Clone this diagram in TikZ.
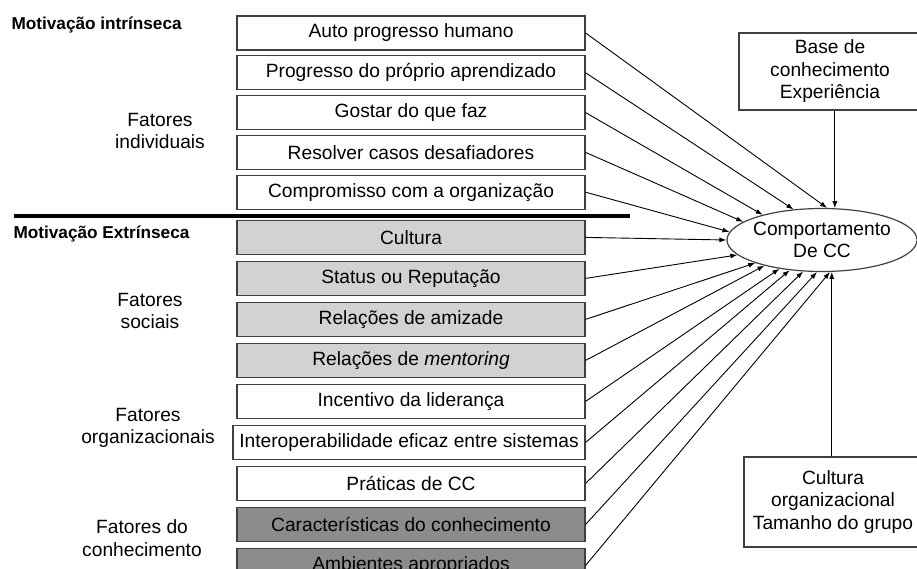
\documentclass[tikz,border=0pt]{standalone}
\usepackage{fontspec}
\setmainfont{Liberation Sans}
\usetikzlibrary{arrows.meta,positioning,shapes.geometric}

\begin{document}
\begin{tikzpicture}[
  x=1pt,y=-1pt,
  node distance=4.6pt,
  font=\fontsize{19.2}{22.5}\selectfont,
  box/.style={draw=black!75,line width=1.2pt,minimum width=348pt,
              minimum height=34pt,inner sep=1pt},
  social/.style={box,fill=gray!35},
  knowledge/.style={box,fill=gray!90},
  side/.style={draw=black!75,line width=1.2pt,align=center},
  factor/.style={align=center},
  title/.style={font=\fontsize{17.2}{20}\selectfont\bfseries},
  arrow/.style={-{Latex[length=7pt,width=5pt]},line width=0.9pt}
]
  \useasboundingbox (0,0) rectangle (917,569);
  % intrinsic factors
  \node[box] (auto) at (411,33) {Auto progresso humano};
  \node[box,below=of auto] (progresso) {Progresso do próprio aprendizado};
  \node[box,below=of progresso] (gostar) {Gostar do que faz};
  \node[box,below=of gostar] (resolver) {Resolver casos desafiadores};
  \node[box,below=of resolver] (compromisso) {Compromisso com a organização};
  % extrinsic factors
  \node[social,below=10pt of compromisso] (cultura) {Cultura};
  \node[social,below=5.8pt of cultura] (status) {Status ou Reputação};
  \node[social,below=5.8pt of status] (amizade) {Relações de amizade};
  \node[social,below=5.8pt of amizade] (mentoring) {Relações de \textit{mentoring}};
  \node[box,below=5.8pt of mentoring] (incentivo) {Incentivo da liderança};
  \node[box,below=5.8pt of incentivo,xshift=-2pt,minimum width=352pt] (interop) {Interoperabilidade eficaz entre sistemas};
  \node[box,below=5.8pt of interop,xshift=2pt] (praticas) {Práticas de CC};
  \node[knowledge,below=5.8pt of praticas] (caract) {Características do conhecimento};
  \node[knowledge,below=5.8pt of caract] (ambientes) {Ambientes apropriados};

  \node[title,anchor=base west] (intr) at (8,30) {Motivação intrínseca};
  \node[title,anchor=base west] (extr) at (10,239) {Motivação Extrínseca};
  \coordinate (sepL) at (14,216);
  \coordinate (sepR) at (630,216);
  \draw[line width=3.5pt] (sepL) -- (sepR);

  \node[factor] (indiv) at (160,131) {Fatores\\individuais};
  \node[factor] (sociais) at (150,311) {Fatores\\sociais};
  \node[factor] (organiz) at (148,428) {Fatores\\organizacionais};
  \node[factor] (conhec) at (142,538) {Fatores do\\conhecimento};

  \node[ellipse,draw=black!75,line width=1.2pt,minimum width=190pt,
        minimum height=63pt,inner xsep=-3pt,inner ysep=0pt,align=center]
        (cc) at (822,240) {Comportamento\\De CC};
  \node[side,minimum width=182pt,minimum height=77pt] (base) at (830,71.5)
        {Base de\\conhecimento\\Experiência};
  \node[side,minimum width=178pt,minimum height=90pt] (org) at (833,502)
        {Cultura\\organizacional\\Tamanho do grupo};

  \draw[arrow] (auto.east) -- (cc.81);
  \draw[arrow] (progresso.east) -- (cc.133);
  \draw[arrow] (gostar.east) -- (cc.157);
  \draw[arrow] (resolver.east) -- (cc.167);
  \draw[arrow] (compromisso.east) -- (cc.175);
  \draw[arrow] (cultura.east) -- (cc.180);
  \draw[arrow] (status.east) -- (cc.190);
  \draw[arrow] (amizade.east) -- (cc.199);
  \draw[arrow] (mentoring.east) -- (cc.204);
  \draw[arrow] (incentivo.east) -- (cc.214);
  \draw[arrow] (interop.east) -- (cc.223);
  \draw[arrow] (praticas.east) -- (cc.239);
  \draw[arrow] (caract.east) -- (cc.261);
  \draw[arrow] (ambientes.east) -- (cc.284);
  \draw[arrow] (cc.68 |- base.south) -- (cc.68);
  \draw[arrow] (cc.287 |- org.north) -- (cc.287);
\end{tikzpicture}
\end{document}
